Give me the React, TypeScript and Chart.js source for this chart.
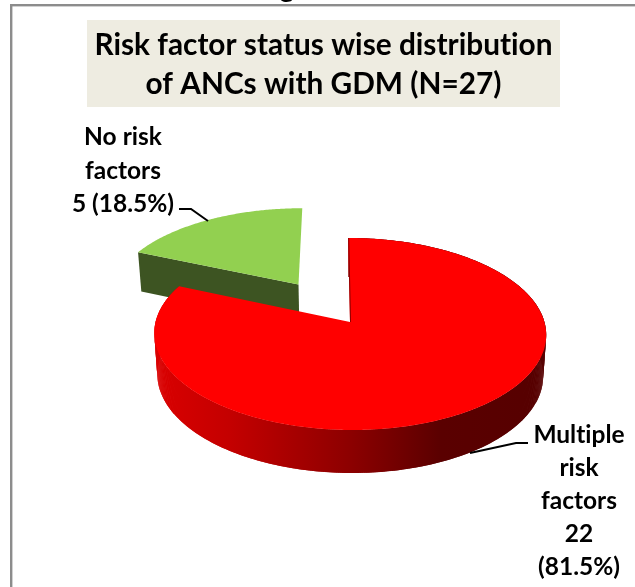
import React, { useEffect, useRef } from "react";
import { Chart, registerables } from "chart.js";

Chart.register(...registerables);

const categories = ["Multiple risk factors", "No risk factors"];
const counts = [22, 5];
const sliceColors = ["#ff0000", "#92d050"];
const titleLines = ["Risk factor status wise distribution", "of ANCs with GDM (N=27)"];
const multipleLabel = ["Multiple", "risk", "factors", "22", "(81.5%)"];
const noRiskLabel = ["No risk", "factors", "5 (18.5%)"];

const FONT = "Lato, Carlito, sans-serif";
const WIDTH = 635;
const HEIGHT = 587;

// perspective projection of the unit pie onto the page
const C = 0.125;
const top = { a: -54.25, b: 322, k: 194.4 };
const bottom = { a: -51.1, b: 362.75, k: 191.4 };
function project(u: number, v: number, level: typeof top) {
  const d = 1 + C * v;
  return { x: 350 + (level.k * u - 2 * v) / d, y: (level.a * v + level.b) / d };
}

const pie3d = {
  id: "pie3d",
  beforeDraw(chart: any) {
    const ctx = chart.ctx;
    // no "ti" ligature in the labels
    ctx.textRendering = "optimizeSpeed";
    ctx.save();
    ctx.fillStyle = "#ffffff";
    ctx.fillRect(0, 0, WIDTH, HEIGHT);
    ctx.fillStyle = "#eeece1";
    ctx.fillRect(87, 20, 473, 87);
    ctx.fillStyle = "#8c8c8c";
    ctx.fillRect(10, 4, WIDTH - 10, 2.4);
    ctx.fillRect(10, 4, 2.4, HEIGHT - 4);
    ctx.fillStyle = "#000000";
    ctx.textAlign = "center";
    ctx.font = `700 28px ${FONT}`;
    ctx.fillText("g", 287, -3);
    ctx.restore();
  },
  beforeDatasetDraw(chart: any) {
    const ctx = chart.ctx;
    const arcs = chart.getDatasetMeta(0).data;
    const shapes = arcs.map((el: any) => {
      const R = el.outerRadius;
      const half = (el.startAngle + el.endAngle) / 2;
      const frac = (el.options.offset || 0) / R;
      // unit coordinates: u to the right, v away from the viewer
      const ou = Math.cos(half) * frac;
      const ov = -Math.sin(half) * frac;
      const pts = (level: typeof top) => {
        const out: { x: number; y: number }[] = [];
        const n = Math.ceil((el.endAngle - el.startAngle) / 0.01);
        for (let i = 0; i <= n; i++) {
          const t = el.startAngle + ((el.endAngle - el.startAngle) * i) / n;
          out.push(project(ou + Math.cos(t), ov - Math.sin(t), level));
        }
        return out;
      };
      return {
        el,
        rimTop: pts(top),
        rimBottom: pts(bottom),
        apexTop: project(ou, ov, top),
        apexBottom: project(ou, ov, bottom),
      };
    });
    const poly = (list: { x: number; y: number }[], fill: any) => {
      ctx.beginPath();
      list.forEach((p, i) => (i ? ctx.lineTo(p.x, p.y) : ctx.moveTo(p.x, p.y)));
      ctx.closePath();
      ctx.fillStyle = fill;
      ctx.fill();
    };
    ctx.save();
    // exploded slice first: it lies behind the large one
    const [large, small] = shapes;
    poly(
      [small.rimTop[0], small.apexTop, small.apexBottom, small.rimBottom[0]],
      "#3d5422"
    );
    poly([small.apexTop, ...small.rimTop], small.el.options.backgroundColor);

    const grad = ctx.createLinearGradient(155, 0, 547, 0);
    grad.addColorStop(0, "#da0000");
    grad.addColorStop(0.19, "#c40000");
    grad.addColorStop(0.5, "#8c0000");
    grad.addColorStop(0.73, "#5a0000");
    grad.addColorStop(1, "#560000");
    // sweep the outer wall so that its silhouette stays closed at both ends
    for (let i = 0; i + 2 < large.rimTop.length; i++) {
      poly(
        [large.rimTop[i], large.rimTop[i + 2], large.rimBottom[i + 2], large.rimBottom[i]],
        grad
      );
    }
    poly([large.apexTop, ...large.rimTop], large.el.options.backgroundColor);
    ctx.strokeStyle = "#8a0000";
    ctx.lineWidth = 1;
    ctx.beginPath();
    ctx.moveTo(large.apexTop.x + 0.5, large.apexTop.y);
    ctx.lineTo(large.rimTop[0].x + 0.5, large.rimTop[0].y);
    ctx.stroke();
    ctx.restore();
    return false;
  },
  afterDraw(chart: any) {
    const ctx = chart.ctx;
    ctx.save();
    ctx.strokeStyle = "#000000";
    ctx.lineWidth = 2;
    ctx.beginPath();
    ctx.moveTo(179, 209);
    ctx.lineTo(191, 209);
    ctx.lineTo(208, 221);
    ctx.moveTo(528, 443);
    ctx.lineTo(516, 443);
    ctx.lineTo(470, 453);
    ctx.stroke();
    ctx.fillStyle = "#000000";
    ctx.textAlign = "center";
    ctx.textBaseline = "alphabetic";
    ctx.font = `700 24.5px ${FONT}`;
    noRiskLabel.forEach((line, i) => ctx.fillText(line, 123, 145 + i * 33.5));
    multipleLabel.forEach((line, i) => ctx.fillText(line, 579, 443 + i * 33));
    ctx.restore();
  },
};

export default function App() {
  const ref = useRef<HTMLCanvasElement>(null);
  useEffect(() => {
    document.body.style.margin = "0";
    const chart = new Chart(ref.current!, {
      type: "pie",
      data: {
        labels: categories,
        datasets: [
          {
            data: counts,
            backgroundColor: sliceColors,
            borderWidth: 0,
            offset: [0, 96],
            hoverOffset: 0,
          },
        ],
      },
      options: {
        animation: false,
        responsive: false,
        layout: { padding: { left: 12 } },
        events: [],
        plugins: {
          legend: { display: false },
          tooltip: { enabled: false },
          title: {
            display: true,
            text: titleLines,
            color: "#000000",
            font: { family: FONT, size: 29.8, weight: "700", lineHeight: 1.3 },
            padding: { top: 26, bottom: 3 },
          },
        },
      },
      plugins: [pie3d],
    } as any);
    return () => chart.destroy();
  }, []);
  return <canvas ref={ref} width={WIDTH} height={HEIGHT} style={{ display: "block" }} />;
}
